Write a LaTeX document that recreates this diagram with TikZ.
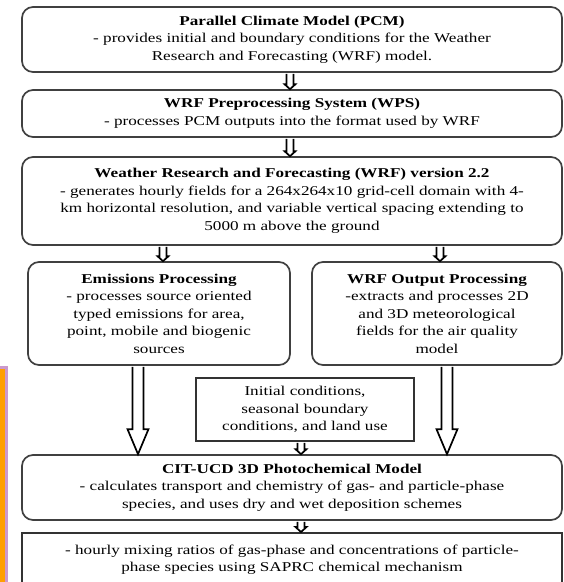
\documentclass[tikz,border=0pt]{standalone}
\usepackage{fontspec}
\setmainfont{Liberation Serif}[FakeStretch=1.27]
\usetikzlibrary{calc}

% hollow block arrow from #1 (top) down to #2 (tip);
% #3 half shaft width, #4 half head width, #5 head length
\newcommand\blockarrow[5]{%
  \draw[hollow] let \p1=(#1), \p2=(#2) in
    (\x1-#3,\y1-1pt) -- (\x1-#3,\y2+#5) -- (\x1-#4,\y2+#5) -- (\x1,\y2)
    -- (\x1+#4,\y2+#5) -- (\x1+#3,\y2+#5) -- (\x1+#3,\y1-1pt);}

\begin{document}
\begin{tikzpicture}[x=1pt,y=-1pt,
  every node/.style={font=\fontsize{13.5}{17.5}\selectfont, text=black},
  roundbox/.style={draw=black!75, line width=1.7pt, rounded corners=11pt,
    align=center, inner sep=0pt},
  squarebox/.style={draw=black!80, line width=1.7pt, align=center, inner sep=0pt},
  hollow/.style={draw=black, line width=1.7pt, fill=white, line join=miter}
]
\useasboundingbox (0,0) rectangle (564,582);
\clip (0,0) rectangle (564,582);

% side strip
\fill[orange!75!yellow] (0,368) rectangle (5,582);
\fill[violet!40] (5,366) rectangle (7.5,582);
\fill[violet!40] (0,366) rectangle (7.5,368.5);

\node[roundbox, minimum width=540pt, minimum height=65pt] (pcm) at (292,39.5)
  {\textbf{Parallel Climate Model (PCM)}\\
   - provides initial and boundary conditions for the Weather\\
   Research and Forecasting (WRF) model.};

\node[roundbox, minimum width=540pt, minimum height=47pt] (wps) at (292,113.5)
  {\textbf{WRF Preprocessing System (WPS)}\\
   - processes PCM outputs into the format used by WRF};

\node[roundbox, minimum width=540pt, minimum height=88pt] (wrf) at (292,201)
  {\textbf{Weather Research and Forecasting (WRF) version 2.2}\\
   - generates hourly fields for a 264x264x10 grid-cell domain with 4-\\
   km horizontal resolution, and variable vertical spacing extending to\\
   5000 m above the ground};

\node[roundbox, minimum width=262pt, minimum height=103pt] (emis) at (159,313.5)
  {\textbf{Emissions Processing}\\
   - processes source oriented\\
   typed emissions for area,\\
   point, mobile and biogenic\\
   sources};

\node[roundbox, minimum width=250pt, minimum height=103pt] (wout) at (437,313.5)
  {\textbf{WRF Output Processing}\\
   -extracts and processes 2D\\
   and 3D meteorological\\
   fields for the air quality\\
   model};

\node[squarebox, minimum width=218pt, minimum height=63pt] (init) at (305,409.5)
  {Initial conditions,\\
   seasonal boundary\\
   conditions, and land use};

\node[roundbox, minimum width=540pt, minimum height=65pt] (cit) at (292,487.5)
  {\textbf{CIT-UCD 3D Photochemical Model}\\
   - calculates transport and chemistry of gas- and particle-phase\\
   species, and uses dry and wet deposition schemes};

\node[squarebox, minimum width=540pt, minimum height=54pt, anchor=north] (out) at (292,532)
  {- hourly mixing ratios of gas-phase and concentrations of particle-\\
   phase species using SAPRC chemical mechanism};

% arrow columns
\coordinate (ca) at (290,0);
\coordinate (cl) at (163,0);
\coordinate (cr) at (440,0);
\coordinate (bl) at (138,0);
\coordinate (br) at (447,0);
\coordinate (cm) at (301,0);

\blockarrow{pcm.south -| ca}{wps.north -| ca}{3.5pt}{5.5pt}{5pt}
\blockarrow{wps.south -| ca}{wrf.north -| ca}{3.5pt}{5.5pt}{5pt}
\blockarrow{wrf.south -| cl}{emis.north -| cl}{3.5pt}{5.5pt}{5pt}
\blockarrow{wrf.south -| cr}{wout.north -| cr}{3.5pt}{5.5pt}{5pt}
\blockarrow{emis.south -| bl}{cit.north -| bl}{5.5pt}{10.5pt}{25pt}
\blockarrow{wout.south -| br}{cit.north -| br}{5.5pt}{10.5pt}{25pt}
\blockarrow{init.south -| cm}{cit.north -| cm}{3.5pt}{5.5pt}{5pt}
\blockarrow{cit.south -| cm}{out.north -| cm}{3.5pt}{5.5pt}{5pt}
\end{tikzpicture}
\end{document}
